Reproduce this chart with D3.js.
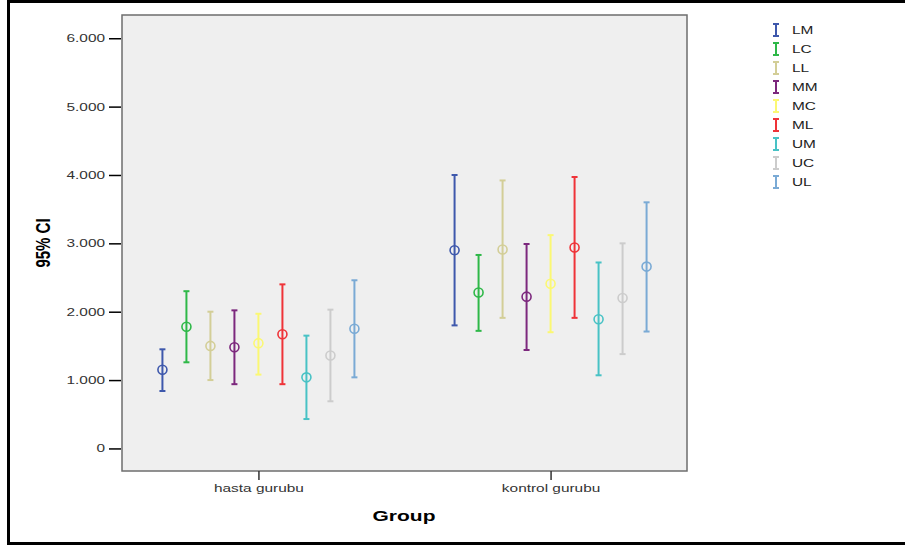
<!DOCTYPE html>
<html>
<head>
<meta charset="utf-8">
<script src="https://cdn.jsdelivr.net/npm/d3@7"></script>
<style>
  body { margin: 0; background: #fff; }
  svg { display: block; font-family: Arial, "Liberation Sans", sans-serif; }
</style>
</head>
<body>
<svg id="chart" width="905" height="545"></svg>
<script>
// Data
const groups = ["hasta gurubu", "kontrol gurubu"];
const series = ["LM", "LC", "LL", "MM", "MC", "ML", "UM", "UC", "UL"];
const colors = ["#3e58ac", "#2eb848", "#d3ce97", "#7c287d", "#fbf873", "#ef3338", "#48c2c5", "#cccccc", "#7aaad5"];

// per series: [hasta, kontrol]
const means = [
  [1.15, 2.90], [1.78, 2.28], [1.50, 2.91], [1.48, 2.22], [1.54, 2.41],
  [1.67, 2.94], [1.04, 1.89], [1.36, 2.20], [1.75, 2.66]
];
const lower = [
  [0.84, 1.80], [1.26, 1.72], [1.00, 1.91], [0.94, 1.44], [1.08, 1.70],
  [0.94, 1.91], [0.43, 1.07], [0.69, 1.38], [1.04, 1.71]
];
const upper = [
  [1.45, 4.00], [2.30, 2.83], [2.00, 3.92], [2.02, 2.99], [1.97, 3.12],
  [2.40, 3.97], [1.65, 2.72], [2.03, 3.00], [2.46, 3.60]
];
const yTicks = [0, 1, 2, 3, 4, 5, 6];
const yTickLabels = ["0", "1.000", "2.000", "3.000", "4.000", "5.000", "6.000"];

// the original export is stretched sideways, so text gets the same stretch
const stretch = 1.4;

// Layout
const plot = { left: 122, top: 15, right: 687, bottom: 471 };
const svg = d3.select("#chart");

// outer frame
svg.append("path")
    .attr("d", "M8.5,545 L8.5,1.5 L905,1.5 M8.5,543.5 L905,543.5")
    .attr("fill", "none")
    .attr("stroke", "#000")
    .attr("stroke-width", 3);

const x = d3.scalePoint().domain(groups).range([plot.left, plot.right]).padding(0.467);
const y = d3.scaleLinear().domain([-0.33, 6.34]).range([plot.bottom, plot.top]);
const offset = d3.scalePoint().domain(series).range([-96, 96]);

// plot background
svg.append("rect")
    .attr("x", plot.left)
    .attr("y", plot.top)
    .attr("width", plot.right - plot.left)
    .attr("height", plot.bottom - plot.top)
    .attr("fill", "#efefef")
    .attr("stroke", "#6e6e6e")
    .attr("stroke-width", 1.5);

// Y axis
const yAxis = svg.append("g")
    .attr("transform", `translate(${plot.left - 1},0)`)
    .call(d3.axisLeft(y).tickValues(yTicks).tickSize(12).tickSizeOuter(0)
        .tickFormat((d, i) => yTickLabels[i]));
yAxis.select(".domain").remove();
yAxis.selectAll(".tick line").attr("stroke", "#000").attr("stroke-width", 1.5);
yAxis.selectAll(".tick text")
    .attr("x", -16 / stretch)
    .attr("transform", `scale(${stretch},1)`)
    .style("font-size", "11px")
    .style("font-family", "Arial, 'Liberation Sans', sans-serif")
    .attr("fill", "#333");

// X axis
const xAxis = svg.append("g")
    .attr("transform", `translate(0,${plot.bottom})`)
    .call(d3.axisBottom(x).tickSize(9).tickSizeOuter(0));
xAxis.select(".domain").remove();
xAxis.selectAll(".tick line").attr("stroke", "#333").attr("stroke-width", 1.5);
xAxis.selectAll(".tick text")
    .attr("y", 13)
    .attr("transform", `scale(${stretch},1)`)
    .style("font-size", "11px")
    .style("font-family", "Arial, 'Liberation Sans', sans-serif")
    .attr("fill", "#333");

// axis titles
svg.append("text")
    .attr("transform", `translate(50,${(plot.top + plot.bottom) / 2}) rotate(-90) scale(1,${stretch})`)
    .attr("text-anchor", "middle")
    .style("font-size", "15px")
    .style("font-weight", "bold")
    .text("95% CI");

svg.append("text")
    .attr("transform", `translate(404,521) scale(${stretch},1)`)
    .attr("text-anchor", "middle")
    .style("font-size", "15px")
    .style("font-weight", "bold")
    .text("Group");

// error bars
const points = [];
series.forEach((s, i) => {
  groups.forEach((g, j) => {
    points.push({ s, g, color: colors[i], mean: means[i][j], lo: lower[i][j], hi: upper[i][j] });
  });
});

const bars = svg.append("g").selectAll("g").data(points).join("g")
    .attr("transform", d => `translate(${x(d.g) + offset(d.s)},0)`);

bars.append("line")
    .attr("y1", d => y(d.lo))
    .attr("y2", d => y(d.hi))
    .attr("stroke", d => d.color)
    .attr("stroke-width", 2);

bars.append("line")
    .attr("x1", -3).attr("x2", 3)
    .attr("y1", d => y(d.hi)).attr("y2", d => y(d.hi))
    .attr("stroke", d => d.color)
    .attr("stroke-width", 2);

bars.append("line")
    .attr("x1", -3).attr("x2", 3)
    .attr("y1", d => y(d.lo)).attr("y2", d => y(d.lo))
    .attr("stroke", d => d.color)
    .attr("stroke-width", 2);

bars.append("circle")
    .attr("cy", d => y(d.mean))
    .attr("r", 4.5)
    .attr("fill", "none")
    .attr("stroke", d => d.color)
    .attr("stroke-width", 1.6);

// legend
const legend = svg.append("g").selectAll("g").data(series).join("g")
    .attr("transform", (d, i) => `translate(776,${30 + i * 19})`);

legend.append("path")
    .attr("d", "M-3,-6 L3,-6 M0,-6 L0,6 M-3,6 L3,6")
    .attr("fill", "none")
    .attr("stroke", (d, i) => colors[i])
    .attr("stroke-width", 2);

legend.append("text")
    .attr("transform", `translate(16,0) scale(${stretch},1)`)
    .attr("dy", "0.36em")
    .style("font-size", "11px")
    .attr("fill", "#222")
    .text(d => d);
</script>
</body>
</html>
